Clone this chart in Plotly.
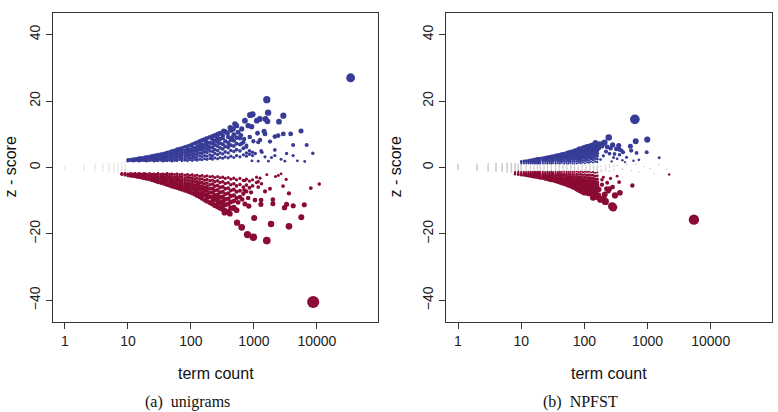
import plotly.graph_objects as go

# ---------------- DATA ----------------
x_tickvals = [1, 10, 100, 1000, 10000]
x_ticktext = ["1", "10", "100", "1000", "10000"]
y_tickvals = [-40, -20, 0, 20, 40]
panel_captions = ["(a)\u00a0 unigrams", "(b)\u00a0 NPFST"]

# (a) unigrams -- dense positive band: term counts and z-scores at each count
uni_pos_count = [10, 11, 12, 13, 14, 15, 16, 17, 18, 19, 20, 22, 24, 26, 28, 30, 33, 36, 39, 42, 46, 50,
                 55, 60, 66, 72, 80, 88, 96, 105, 115, 125, 138, 150, 165, 180, 200, 220, 240, 265, 290,
                 320, 350, 390, 430, 480, 530, 600, 680, 760, 850, 950]
uni_pos_z = [
    [1.9, 2.1, 2.4], [2.0, 2.3, 2.5], [1.9, 2.2, 2.6], [2.0, 2.4, 2.7], [2.1, 2.5, 2.8],
    [1.9, 2.3, 2.6, 2.9], [2.0, 2.7, 3.0], [2.2, 2.5, 2.9], [2.0, 2.4, 2.8, 3.1], [2.1, 2.6, 3.2],
    [1.9, 2.3, 2.9, 3.3], [2.0, 2.5, 3.0, 3.4], [2.2, 2.7, 3.2, 3.6], [1.9, 2.4, 2.9, 3.5, 3.7],
    [2.1, 2.6, 3.1, 3.8], [2.0, 2.5, 3.0, 3.4, 3.9], [2.2, 2.8, 3.3, 3.7, 4.1],
    [1.9, 2.4, 3.0, 3.5, 4.2], [2.1, 2.7, 3.2, 3.9, 4.4], [2.0, 2.5, 3.1, 3.6, 4.1, 4.6],
    [2.2, 2.8, 3.4, 4.0, 4.7], [1.9, 2.4, 3.0, 3.6, 4.3, 5.0], [2.1, 2.7, 3.3, 3.9, 4.5, 5.2],
    [2.0, 2.6, 3.2, 3.8, 4.4, 5.0, 5.5], [2.3, 2.9, 3.5, 4.2, 4.9, 5.7],
    [2.0, 2.6, 3.3, 4.0, 4.6, 5.3, 5.9], [2.2, 2.8, 3.6, 4.4, 5.1, 6.2],
    [2.0, 2.7, 3.4, 4.1, 4.8, 5.6, 6.4], [2.3, 3.0, 3.8, 4.6, 5.4, 6.6],
    [2.1, 2.9, 3.7, 4.5, 5.2, 6.0, 7.0], [2.4, 3.2, 4.1, 5.0, 5.9, 7.3],
    [2.2, 3.0, 3.9, 4.8, 5.7, 6.5, 7.6], [2.5, 3.5, 4.4, 5.4, 6.3, 7.9],
    [2.3, 3.2, 4.2, 5.2, 6.1, 7.0, 8.2], [2.6, 3.6, 4.7, 5.8, 6.8, 8.5],
    [2.4, 3.4, 4.5, 5.5, 6.6, 7.6, 8.8], [2.7, 3.8, 5.0, 6.2, 7.4, 9.1],
    [2.5, 3.6, 4.8, 6.0, 7.2, 8.4, 9.4], [2.9, 4.2, 5.4, 6.8, 8.0, 9.7],
    [2.6, 3.9, 5.1, 6.5, 7.7, 9.0, 10.0], [3.0, 4.4, 5.9, 7.3, 8.6, 10.3],
    [2.8, 4.1, 5.6, 7.0, 8.9, 9.6], [3.2, 4.7, 6.3, 7.9, 10.8], [2.9, 4.4, 6.0, 7.5, 9.2],
    [3.4, 5.1, 6.7, 8.3, 11.2], [3.0, 4.8, 6.5, 8.1, 9.9], [3.6, 5.4, 7.2, 9.0],
    [3.2, 5.0, 6.9, 8.8], [3.8, 5.8, 7.6], [3.4, 4.4, 6.2], [4.0, 5.0], [3.6, 4.6],
]
# (a) unigrams -- scattered positive points (count, z)
uni_pos_extra = [
    (34300, 27.0), (1600, 20.4), (1680, 16.5), (870, 15.8), (950, 16.0), (720, 14.1), (1110, 14.1),
    (1240, 14.6), (1530, 14.6), (1640, 13.9), (2500, 13.8), (2930, 15.6), (500, 13.1), (530, 12.6),
    (470, 11.6), (640, 11.6), (810, 12.6), (920, 12.3), (1140, 10.3), (1450, 10.9), (1500, 10.1),
    (2150, 9.3), (2430, 9.6), (2930, 10.1), (3830, 10.1), (5600, 11.0), (4190, 6.8), (6880, 6.8),
    (8600, 4.3), (4190, 3.6), (2150, 5.3), (2150, 3.6), (1340, 4.6), (1170, 7.6), (980, 7.9),
    (3100, 1.9), (6400, 1.8), (1700, 1.9), (1170, 1.9), (930, 2.0), (1300, 5.0), (1500, 3.2),
    (1050, 4.2), (860, 9.2), (700, 8.6), (620, 9.7), (560, 10.6), (1250, 8.3), (1800, 7.8),
    (3300, 4.2), (760, 6.6), (640, 7.2), (420, 12.0), (380, 10.3), (330, 11.0), (450, 9.0),
    (2700, 2.5), (4900, 2.0), (1900, 3.0), (85, 4.3), (140, 6.9), (190, 5.7), (260, 8.7), (31, 2.7),
    (58, 4.7), (110, 3.5), (210, 3.1), (170, 7.9), (400, 7.0),
]
# (a) unigrams -- dense negative band
uni_neg_count = [8, 9, 10, 11, 12, 13, 14, 15, 16, 17, 18, 19, 20, 22, 24, 26, 28, 30, 33, 36, 39, 42, 46,
                 50, 55, 60, 66, 72, 80, 88, 96, 105, 115, 125, 138, 150, 165, 180, 200, 220, 240, 265,
                 290, 320, 350, 390, 430, 480, 530, 600, 680, 760, 850, 950, 1100]
uni_neg_z = [
    [-1.8, -2.0, -2.1], [-1.8, -2.1, -2.3], [-1.9, -2.2, -2.5], [-1.8, -2.1, -2.4, -2.6],
    [-1.9, -2.3, -2.7], [-1.8, -2.2, -2.5, -2.8], [-2.0, -2.4, -2.9], [-1.8, -2.2, -2.6, -3.0],
    [-1.9, -2.4, -2.8, -3.1], [-2.0, -2.5, -2.9, -3.2], [-1.8, -2.3, -2.7, -3.3],
    [-1.9, -2.4, -2.9, -3.4], [-2.0, -2.5, -3.0, -3.5], [-1.8, -2.3, -2.8, -3.3, -3.7],
    [-2.0, -2.6, -3.1, -3.6, -3.9], [-1.9, -2.4, -3.0, -3.5, -4.1], [-2.1, -2.7, -3.3, -3.8, -4.3],
    [-1.8, -2.4, -3.0, -3.6, -4.1, -4.5], [-2.0, -2.6, -3.2, -3.9, -4.7],
    [-1.9, -2.5, -3.1, -3.7, -4.3, -4.9], [-2.1, -2.8, -3.4, -4.1, -4.6, -5.1],
    [-1.8, -2.4, -3.0, -3.7, -4.4, -5.3], [-2.0, -2.7, -3.4, -4.1, -4.8, -5.5],
    [-1.9, -2.5, -3.2, -3.9, -4.6, -5.2, -5.8], [-2.1, -2.8, -3.5, -4.3, -5.0, -5.7, -6.0],
    [-1.9, -2.6, -3.3, -4.0, -4.8, -5.5, -6.2], [-2.2, -2.9, -3.7, -4.5, -5.3, -6.0, -6.5],
    [-2.0, -2.7, -3.5, -4.3, -5.1, -5.9, -6.7], [-2.3, -3.1, -3.9, -4.8, -5.6, -6.4, -7.0],
    [-2.1, -2.9, -3.7, -4.6, -5.4, -6.2, -7.2], [-2.4, -3.2, -4.1, -5.0, -5.9, -6.8, -7.5],
    [-2.2, -3.0, -3.9, -4.8, -5.7, -6.6, -7.8], [-2.5, -3.4, -4.3, -5.3, -6.2, -7.2, -8.1],
    [-2.3, -3.2, -4.2, -5.1, -6.0, -7.0, -8.0, -8.5], [-2.6, -3.6, -4.6, -5.7, -6.7, -7.8, -8.9],
    [-2.4, -3.4, -4.5, -5.5, -6.5, -7.6, -8.6, -9.3], [-2.7, -3.8, -4.9, -6.0, -7.1, -8.3, -9.8],
    [-2.5, -3.6, -4.7, -5.8, -7.0, -8.1, -9.2, -10.2], [-2.8, -4.0, -5.2, -6.4, -7.6, -8.9, -10.6],
    [-2.6, -3.8, -5.0, -6.3, -7.5, -8.8, -10.0, -11.0], [-3.0, -4.3, -5.6, -6.9, -8.3, -9.7, -11.4],
    [-2.7, -4.0, -5.4, -6.8, -8.2, -9.6, -10.8, -11.8], [-3.1, -4.5, -6.0, -7.5, -9.0, -10.5, -12.2],
    [-2.9, -4.3, -5.8, -7.3, -8.8, -10.2, -11.5, -12.6], [-3.3, -4.8, -6.4, -8.0, -9.6, -11.2, -13.0],
    [-3.0, -4.6, -6.2, -7.8, -9.4, -11.0, -13.4], [-3.5, -5.2, -6.9, -8.6, -10.4, -12.2],
    [-3.2, -4.9, -6.6, -8.4, -10.1, -12.0], [-3.7, -5.5, -7.3, -9.2, -12.9], [-3.3, -5.1, -7.0, -8.9],
    [-3.9, -5.9, -7.9], [-3.5, -5.3, -7.2], [-4.1, -6.1], [-3.7, -5.5], [-2.9, -4.5],
]
uni_neg_extra = [
    (8730, -40.5), (1600, -22.0), (980, -21.0), (790, -20.2), (540, -16.6), (640, -18.0), (1010, -15.2),
    (1870, -17.0), (3600, -17.7), (5650, -15.0), (6300, -11.2), (4200, -11.5), (3300, -11.1),
    (3060, -12.1), (2000, -9.7), (2000, -10.9), (1300, -9.8), (1290, -11.1), (1040, -9.8), (810, -9.2),
    (830, -11.6), (530, -12.9), (390, -13.4), (415, -13.9), (1800, -6.4), (3600, -7.8), (2900, -5.6),
    (8000, -6.2), (10900, -5.0), (3250, -3.6), (2440, -2.4), (2200, -2.7), (1320, -4.9), (1170, -5.9),
    (1170, -4.3), (720, -3.9), (700, -6.8), (900, -7.5), (1500, -7.2), (1250, -3.2), (1600, -2.2),
    (2700, -1.9), (560, -10.5), (470, -12.3), (340, -13.6), (650, -9.6), (720, -11.0),
    (62, -3.6), (92, -5.3), (132, -4.9), (175, -6.4), (245, -9.0), (310, -10.6), (44, -2.9), (120, -7.1),
]
uni_grey_count = [1, 2, 3, 4, 5, 6, 7, 8, 9]
uni_grey_z = [
    [-0.5, 0.0, 0.5], [-0.8, -0.3, 0.2, 0.7], [-1.0, -0.5, 0.0, 0.5, 1.0], [-1.1, -0.6, -0.1, 0.4, 0.9],
    [-1.2, -0.7, -0.2, 0.3, 0.8, 1.2], [-1.3, -0.8, -0.3, 0.2, 0.7, 1.2], [-1.4, -0.9, -0.4, 0.1, 0.6, 1.1],
    [-1.5, -1.0, -0.5, 0.0, 0.5, 1.0, 1.4], [-1.6, -1.1, -0.6, -0.1, 0.4, 0.9, 1.5],
]

# (b) NPFST
npf_pos_count = [10, 11, 12, 13, 14, 15, 16, 17, 18, 19, 20, 22, 24, 26, 28, 30, 32, 35, 38, 41, 44, 48,
                 52, 56, 60, 65, 70, 76, 82, 88, 95, 102, 110, 118, 127, 137, 148, 160]
npf_pos_z = [
    [1.3, 1.6, 1.9], [1.2, 1.5, 1.8, 2.0], [1.3, 1.7, 2.1], [1.2, 1.5, 1.9, 2.2], [1.3, 1.6, 2.0, 2.3],
    [1.2, 1.5, 1.8, 2.1, 2.4], [1.3, 1.7, 2.1, 2.5], [1.2, 1.6, 2.0, 2.3, 2.6], [1.3, 1.7, 2.1, 2.4, 2.7],
    [1.2, 1.5, 1.9, 2.3, 2.7], [1.3, 1.7, 2.1, 2.5, 2.8], [1.2, 1.6, 2.0, 2.4, 2.7, 2.9],
    [1.3, 1.7, 2.1, 2.5, 2.9, 3.1], [1.2, 1.6, 2.0, 2.4, 2.8, 3.2], [1.3, 1.7, 2.2, 2.6, 3.0, 3.3],
    [1.2, 1.6, 2.0, 2.4, 2.9, 3.2, 3.4], [1.3, 1.8, 2.2, 2.7, 3.1, 3.5],
    [1.2, 1.6, 2.1, 2.5, 3.0, 3.4, 3.7], [1.3, 1.8, 2.3, 2.8, 3.3, 3.8],
    [1.2, 1.7, 2.2, 2.7, 3.1, 3.6, 3.9], [1.4, 1.9, 2.4, 2.9, 3.4, 3.8, 4.1],
    [1.2, 1.7, 2.2, 2.7, 3.2, 3.7, 4.2], [1.3, 1.8, 2.4, 2.9, 3.4, 3.9, 4.4],
    [1.2, 1.7, 2.2, 2.8, 3.3, 3.9, 4.3, 4.6], [1.4, 1.9, 2.5, 3.0, 3.6, 4.1, 4.7],
    [1.2, 1.8, 2.3, 2.9, 3.5, 4.0, 4.5, 4.9], [1.3, 1.9, 2.5, 3.1, 3.7, 4.3, 4.8, 5.1],
    [1.2, 1.8, 2.4, 3.0, 3.6, 4.2, 4.8, 5.3], [1.4, 2.0, 2.6, 3.3, 3.9, 4.5, 5.1, 5.6],
    [1.3, 1.9, 2.5, 3.2, 3.8, 4.4, 5.0, 5.7], [1.5, 2.1, 2.8, 3.5, 4.1, 4.8, 5.4, 5.9],
    [1.3, 2.0, 2.7, 3.3, 4.0, 4.7, 5.3, 6.1], [1.6, 2.3, 3.0, 3.7, 4.4, 5.1, 5.8, 6.3],
    [1.4, 2.1, 2.9, 3.6, 4.3, 5.0, 5.7, 6.4], [1.7, 2.5, 3.3, 4.1, 4.9, 5.6, 6.6],
    [1.5, 2.3, 3.1, 3.9, 4.7, 5.5, 6.2, 6.8], [1.8, 2.7, 3.6, 4.5, 5.3, 6.1, 6.9],
    [1.6, 2.5, 3.4, 4.3, 5.2, 6.0, 6.7],
]
npf_pos_extra = [
    (630, 14.5), (243, 9.0), (650, 7.9), (990, 8.4), (210, 7.6), (280, 6.8), (320, 5.6), (385, 5.1),
    (535, 6.4), (670, 4.4), (970, 4.6), (550, 5.1), (1530, 2.9), (730, 2.3), (465, 3.1), (300, 4.1),
    (360, 5.4), (360, 3.8), (203, 7.4), (230, 6.2), (190, 6.5), (260, 5.8), (175, 7.1), (170, 5.9),
    (220, 4.8), (250, 4.2), (200, 3.5), (290, 3.0), (330, 2.6), (400, 2.2), (180, 2.4), (270, 1.8),
    (410, 4.6), (350, 6.6), (440, 1.6), (600, 2.0), (150, 7.4),
]
npf_neg_count = [8, 9, 10, 11, 12, 13, 14, 15, 16, 17, 18, 19, 20, 22, 24, 26, 28, 30, 32, 35, 38, 41, 44,
                 48, 52, 56, 60, 65, 70, 76, 82, 88, 95, 102, 110, 118, 127, 137, 148, 160]
npf_neg_z = [
    [-1.4, -1.7, -2.0], [-1.3, -1.6, -1.9, -2.2], [-1.4, -1.7, -2.0, -2.3], [-1.3, -1.6, -1.9, -2.2, -2.4],
    [-1.4, -1.8, -2.1, -2.5], [-1.3, -1.6, -2.0, -2.3, -2.6], [-1.4, -1.8, -2.2, -2.5, -2.7],
    [-1.3, -1.7, -2.1, -2.4, -2.8], [-1.4, -1.8, -2.2, -2.6, -2.9], [-1.3, -1.7, -2.1, -2.5, -2.9],
    [-1.4, -1.8, -2.2, -2.6, -3.0], [-1.3, -1.7, -2.1, -2.5, -2.8, -3.1],
    [-1.4, -1.8, -2.2, -2.6, -3.0, -3.2], [-1.3, -1.7, -2.1, -2.5, -2.9, -3.3],
    [-1.4, -1.8, -2.3, -2.7, -3.1, -3.5], [-1.3, -1.7, -2.2, -2.6, -3.0, -3.4, -3.6],
    [-1.4, -1.9, -2.3, -2.8, -3.2, -3.6, -3.8], [-1.3, -1.7, -2.2, -2.7, -3.1, -3.6, -3.9],
    [-1.4, -1.9, -2.4, -2.9, -3.4, -3.8, -4.0], [-1.3, -1.8, -2.3, -2.8, -3.3, -3.8, -4.2],
    [-1.4, -1.9, -2.4, -3.0, -3.5, -4.0, -4.4], [-1.3, -1.8, -2.3, -2.9, -3.4, -3.9, -4.3, -4.6],
    [-1.4, -2.0, -2.5, -3.1, -3.6, -4.2, -4.8], [-1.3, -1.9, -2.4, -3.0, -3.6, -4.2, -4.7, -5.0],
    [-1.4, -2.0, -2.6, -3.2, -3.8, -4.4, -4.9, -5.2], [-1.3, -1.9, -2.5, -3.1, -3.7, -4.3, -4.9, -5.4],
    [-1.4, -2.0, -2.7, -3.3, -4.0, -4.6, -5.2, -5.6], [-1.3, -1.9, -2.6, -3.2, -3.9, -4.5, -5.1, -5.6, -5.9],
    [-1.4, -2.1, -2.8, -3.5, -4.2, -4.9, -5.5, -6.1], [-1.3, -2.0, -2.7, -3.4, -4.1, -4.8, -5.5, -6.1, -6.5],
    [-1.4, -2.1, -2.9, -3.6, -4.4, -5.1, -5.8, -6.5, -6.8], [-1.3, -2.0, -2.8, -3.5, -4.3, -5.0, -5.8, -6.5, -7.1],
    [-1.4, -2.2, -3.0, -3.8, -4.6, -5.4, -6.2, -6.9, -7.4], [-1.3, -2.1, -2.9, -3.7, -4.5, -5.3, -6.1, -6.9, -7.6],
    [-1.4, -2.3, -3.1, -4.0, -4.8, -5.7, -6.5, -7.3], [-1.3, -2.2, -3.0, -3.9, -4.7, -5.6, -6.4, -7.1, -7.8],
    [-1.5, -2.4, -3.3, -4.2, -5.1, -6.0, -6.9, -7.7], [-1.4, -2.3, -3.2, -4.1, -5.0, -5.9, -6.8, -7.8],
    [-1.6, -2.6, -3.6, -4.6, -5.6, -6.6, -7.5], [-1.5, -2.5, -3.5, -4.5, -5.5, -6.4],
]
npf_neg_extra = [
    (5420, -15.7), (275, -11.7), (286, -12.0), (200, -9.5), (180, -9.6), (165, -8.4), (138, -9.0),
    (138, -7.9), (305, -8.4), (365, -7.6), (280, -5.9), (355, -4.4), (575, -5.4), (190, -3.7),
    (225, -6.4), (250, -6.4), (122, -7.4), (96, -6.9), (2200, -2.1), (160, -8.8), (210, -8.1),
    (240, -7.0), (190, -5.2), (170, -6.6), (230, -4.6), (200, -2.9), (260, -3.3), (330, -2.6),
    (150, -8.0), (215, -10.2),
]
npf_grey_count = [1, 2, 3, 4, 5, 6, 7, 8, 9, 10, 12, 14, 16, 18, 20, 23, 26, 30, 35, 40, 46, 53, 61, 70,
                  80, 92, 106, 122, 140, 160, 185, 215, 250, 290]
npf_grey_z = [
    [-0.6, -0.3, 0.0, 0.3, 0.6, 0.9], [-0.9, -0.6, -0.3, 0.0, 0.3, 0.6, 0.9],
    [-1.0, -0.7, -0.4, -0.1, 0.2, 0.5, 0.8, 1.1], [-1.1, -0.8, -0.5, -0.2, 0.1, 0.4, 0.7, 1.0, 1.2],
    [-1.2, -0.9, -0.6, -0.3, 0.0, 0.3, 0.6, 0.9, 1.2], [-1.3, -1.0, -0.7, -0.4, -0.1, 0.2, 0.5, 0.8, 1.1, 1.3],
    [-1.4, -1.1, -0.8, -0.5, -0.2, 0.1, 0.4, 0.7, 1.0, 1.3], [-1.2, -0.9, -0.6, -0.3, 0.0, 0.3, 0.6, 0.9, 1.2],
    [-1.1, -0.8, -0.5, -0.2, 0.1, 0.4, 0.7, 1.0], [-1.2, -0.9, -0.6, -0.3, 0.0, 0.3, 0.6, 0.9],
    [-1.1, -0.6, -0.1, 0.4, 0.9], [-1.0, -0.5, 0.0, 0.5, 1.0], [-1.2, -0.7, -0.2, 0.3, 0.8],
    [-1.1, -0.6, -0.1, 0.4, 0.9], [-1.0, -0.5, 0.0, 0.5, 1.0], [-1.2, -0.7, -0.2, 0.3, 0.8],
    [-1.1, -0.6, -0.1, 0.4, 0.9], [-1.0, -0.5, 0.0, 0.5, 1.0], [-1.2, -0.7, -0.2, 0.3, 0.8],
    [-1.1, -0.6, -0.1, 0.4, 0.9], [-1.0, -0.5, 0.0, 0.5, 1.0], [-1.2, -0.7, -0.2, 0.3, 0.8],
    [-1.1, -0.6, -0.1, 0.4, 0.9], [-1.0, -0.5, 0.0, 0.5, 1.0], [-1.2, -0.7, -0.2, 0.3],
    [-1.1, -0.6, -0.1, 0.4, 0.9], [-1.0, -0.5, 0.0, 0.5], [-1.2, -0.7, -0.2, 0.3, 0.8],
    [-1.1, -0.6, -0.1, 0.4], [-1.0, -0.5, 0.0, 0.5], [-1.2, -0.6, 0.3], [-0.9, -0.2, 0.6],
    [-1.1, 0.1, 0.8], [-0.7, 0.4],
]
npf_grey_extra = [
    (330, 0.6), (400, -0.5), (470, 0.9), (560, -0.9), (720, -1.4), (1270, -1.9), (880, 0.3),
    (1100, -0.4), (650, 1.0), (1500, 0.8), (2000, -0.6),
]

# ---------------- STYLE ----------------
BLUE = "#373c97"
RED = "#8a0b33"
GREY = "#c9c9c9"
LGREY = "#e2e2e2"
SANS = "Liberation Sans, Arial, sans-serif"
SERIF = "Liberation Serif, Times New Roman, serif"


def expand(counts, zlists, extra=()):
    xs, ys = [], []
    for c, zs in zip(counts, zlists):
        for z in zs:
            xs.append(c)
            ys.append(z)
    for c, z in extra:
        xs.append(c)
        ys.append(z)
    return xs, ys


fig = go.Figure()


def add_points(xs, ys, color, sizefn, xa, ya):
    fig.add_trace(go.Scatter(
        x=xs, y=ys, mode="markers", xaxis=xa, yaxis=ya, showlegend=False, hoverinfo="skip",
        marker=dict(color=color, size=[sizefn(abs(v)) for v in ys], line=dict(width=0), opacity=1),
    ))


size_a = lambda a: 2.4 + 0.24 * a
size_b = lambda a: 1.3 + 0.58 * a
size_g = lambda a: 1.6

# panel (a)
gx, gy = expand(uni_grey_count, uni_grey_z)
add_points(gx, gy, LGREY, size_g, "x", "y")
rx, ry = expand(uni_neg_count, uni_neg_z, uni_neg_extra)
add_points(rx, ry, RED, size_a, "x", "y")
bx, by = expand(uni_pos_count, uni_pos_z, uni_pos_extra)
add_points(bx, by, BLUE, size_a, "x", "y")

# panel (b)
gx, gy = expand(npf_grey_count, npf_grey_z, npf_grey_extra)
add_points(gx, gy, GREY, size_g, "x2", "y2")
rx, ry = expand(npf_neg_count, npf_neg_z, npf_neg_extra)
add_points(rx, ry, RED, size_b, "x2", "y2")
bx, by = expand(npf_pos_count, npf_pos_z, npf_pos_extra)
add_points(bx, by, BLUE, size_b, "x2", "y2")

W, H = 778, 412
dom_a = [53 / W, 378 / W]
dom_b = [446 / W, 772 / W]
dom_y = [1 - 322 / H, 1 - 13 / H]

axis_common = dict(showgrid=False, zeroline=False, showline=True, mirror=True, linecolor="#333",
                   linewidth=1, ticks="outside", ticklen=6, tickcolor="#333", tickwidth=1,
                   tickfont=dict(family=SANS, size=14, color="#222"))
xcommon = dict(axis_common, type="log", range=[-0.19, 4.97], tickvals=x_tickvals, ticktext=x_ticktext)
ycommon = dict(axis_common, range=[-46.5, 46.5], tickvals=y_tickvals, tickangle=-90)

fig.update_layout(
    width=W, height=H, margin=dict(l=0, r=0, t=0, b=0),
    paper_bgcolor="white", plot_bgcolor="white", showlegend=False,
    xaxis=dict(xcommon, domain=dom_a, anchor="y"),
    yaxis=dict(ycommon, domain=dom_y, anchor="x"),
    xaxis2=dict(xcommon, domain=dom_b, anchor="y2"),
    yaxis2=dict(ycommon, domain=dom_y, anchor="x2"),
)

ann = []
for cx, ytx in [((53 + 378) / 2, 10), ((446 + 772) / 2, 395)]:
    ann.append(dict(text="term count", x=cx / W, y=1 - 373 / H, xref="paper", yref="paper",
                    showarrow=False, xanchor="center", yanchor="middle",
                    font=dict(family=SANS, size=16, color="#111")))
    ann.append(dict(text="z - score", x=ytx / W, y=1 - 167.5 / H, xref="paper", yref="paper",
                    showarrow=False, xanchor="center", yanchor="middle", textangle=-90,
                    font=dict(family=SANS, size=16, color="#111")))
ann.append(dict(text=panel_captions[0], x=187 / W, y=1 - 402 / H, xref="paper", yref="paper",
                showarrow=False, xanchor="center", yanchor="middle",
                font=dict(family=SERIF, size=16, color="#111")))
ann.append(dict(text=panel_captions[1], x=580 / W, y=1 - 402 / H, xref="paper", yref="paper",
                showarrow=False, xanchor="center", yanchor="middle",
                font=dict(family=SERIF, size=16, color="#111")))
fig.update_layout(annotations=ann)

fig.write_html("out.html")
